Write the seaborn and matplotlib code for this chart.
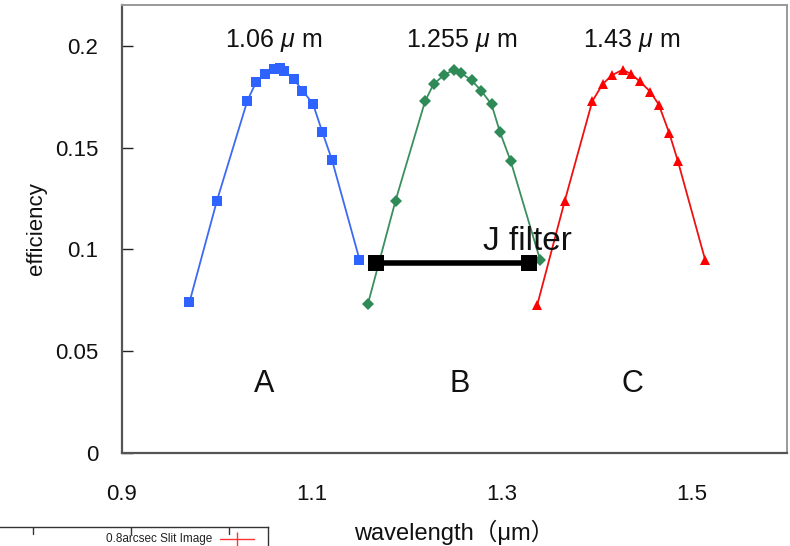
import numpy as np
import pandas as pd
import matplotlib
matplotlib.use("Agg")
import matplotlib.pyplot as plt
import seaborn as sns

# --- data ---
blue_x = [0.971, 1.000, 1.032, 1.041, 1.051, 1.060, 1.066, 1.071, 1.081, 1.090, 1.101, 1.111, 1.121, 1.150]
blue_y = [0.074, 0.124, 0.173, 0.182, 0.186, 0.1885, 0.189, 0.1875, 0.1835, 0.178, 0.1715, 0.1575, 0.144, 0.095]

green_x = [1.159, 1.188, 1.219, 1.228, 1.239, 1.249, 1.257, 1.268, 1.278, 1.289, 1.298, 1.309, 1.340]
green_y = [0.0734, 0.124, 0.1727, 0.1812, 0.1856, 0.1882, 0.1866, 0.183, 0.178, 0.1712, 0.1574, 0.1436, 0.095]

red_x = [1.337, 1.366, 1.395, 1.406, 1.416, 1.427, 1.436, 1.445, 1.456, 1.465, 1.476, 1.485, 1.514]
red_y = [0.0725, 0.1237, 0.1727, 0.1812, 0.1856, 0.1882, 0.1861, 0.1825, 0.1775, 0.1711, 0.1572, 0.1436, 0.0946]

jfilter_x = [1.167, 1.328]
jfilter_y = [0.0935, 0.0935]

peak_labels = ["1.06 $\\mu$ m", "1.255 $\\mu$ m", "1.43 $\\mu$ m"]
peak_pos = [1.060, 1.258, 1.436]
band_names = ["A", "B", "C"]
band_pos = [1.050, 1.255, 1.437]

xticklabels = [0.9, 1.1, 1.3, 1.5]
xtick_marks = [1.047, 1.197, 1.347, 1.498]
yticks = [0, 0.05, 0.1, 0.15, 0.2]
legend_label = "0.8arcsec Slit Image"

sns.set_theme(style="white")
plt.rcParams["font.family"] = ["Liberation Sans", "Noto Sans CJK JP", "DejaVu Sans"]
plt.rcParams["mathtext.fontset"] = "custom"
plt.rcParams["mathtext.rm"] = "Liberation Sans"
plt.rcParams["mathtext.it"] = "Liberation Sans:italic"
plt.rcParams["text.color"] = "#111111"
plt.rcParams["axes.labelcolor"] = "#111111"
plt.rcParams["xtick.labelcolor"] = "#111111"
plt.rcParams["ytick.labelcolor"] = "#111111"

fig = plt.figure(figsize=(7.9, 5.46), dpi=100)
ax = fig.add_axes([0.1544, 0.1703, 0.8418, 0.8205])

sns.lineplot(x=blue_x, y=blue_y, ax=ax, color="#3d6af0", marker="s", markersize=7,
             markeredgewidth=0, markerfacecolor="#2f63ff", linewidth=1.3, sort=False)
sns.lineplot(x=green_x, y=green_y, ax=ax, color="#3a8f5f", marker="D", markersize=6,
             markeredgewidth=0, markerfacecolor="#2e8b57", linewidth=1.3, sort=False)
sns.lineplot(x=red_x, y=red_y, ax=ax, color="#ee1111", marker="^", markersize=7,
             markeredgewidth=0, markerfacecolor="#ff0000", linewidth=1.3, sort=False)
sns.lineplot(x=jfilter_x, y=jfilter_y, ax=ax, color="black", marker="s", markersize=12,
             markeredgewidth=0, linewidth=4, sort=False)

ax.text(1.28, 0.0965, "J filter", fontsize=24, ha="left", va="bottom")
for lab, xp in zip(peak_labels, peak_pos):
    ax.text(xp, 0.2025, lab, fontsize=18, ha="center", va="center")
for lab, xp in zip(band_names, band_pos):
    ax.text(xp, 0.034, lab, fontsize=22, ha="center", va="center")

ax.set_xlim(0.9, 1.6)
ax.set_ylim(0, 0.22)

# labels sit at 0.9..1.5, the tick marks themselves are offset in the original
ax.set_xticks(xticklabels)
ax.set_xticklabels([str(v) for v in xticklabels], fontsize=16)
ax.tick_params(axis="x", length=0, pad=22)
ax.set_xticks(xtick_marks, minor=True)
ax.tick_params(axis="x", which="minor", direction="in", length=8, width=1, color="#222")

ax.set_yticks(yticks)
ax.set_yticklabels(["0", "0.05", "0.1", "0.15", "0.2"], fontsize=16)
ax.tick_params(axis="y", direction="in", length=8, width=1, color="#222", pad=17, left=True)

ax.set_xlabel("wavelength（μm）", fontsize=17, labelpad=11)
ax.set_ylabel("efficiency", fontsize=16, labelpad=6)

for side in ["left", "bottom"]:
    ax.spines[side].set_color("#555555")
    ax.spines[side].set_linewidth(1.6)
for side in ["top", "right"]:
    ax.spines[side].set_color("#999999")
    ax.spines[side].set_linewidth(1.4)

# cropped fragment of another plot's legend box at the bottom-left
frag = fig.add_axes([-0.05, -0.05, 0.05 + 268 / 790, 0.05 + 19 / 546])
frag.set_xlim(0, 1)
frag.set_ylim(0, 1)
frag.set_xticks([])
frag.set_yticks([])
for side in ["left", "bottom"]:
    frag.spines[side].set_visible(False)
for side in ["top", "right"]:
    frag.spines[side].set_color("#333333")
    frag.spines[side].set_linewidth(1)
for tx in [0.236, 0.555, 0.873]:
    frag.axvline(tx, ymin=0.85, ymax=1, color="#333333", linewidth=1)
frag.text(0.82, 0.75, legend_label, fontsize=8.5, ha="right", va="center", color="#222")
frag.plot([0.844, 0.954], [0.75, 0.75], color="#ff3333", linewidth=1)
frag.plot([0.899], [0.75], marker="|", markersize=10, color="#ff3333")

fig.savefig("out.png", dpi=100)
